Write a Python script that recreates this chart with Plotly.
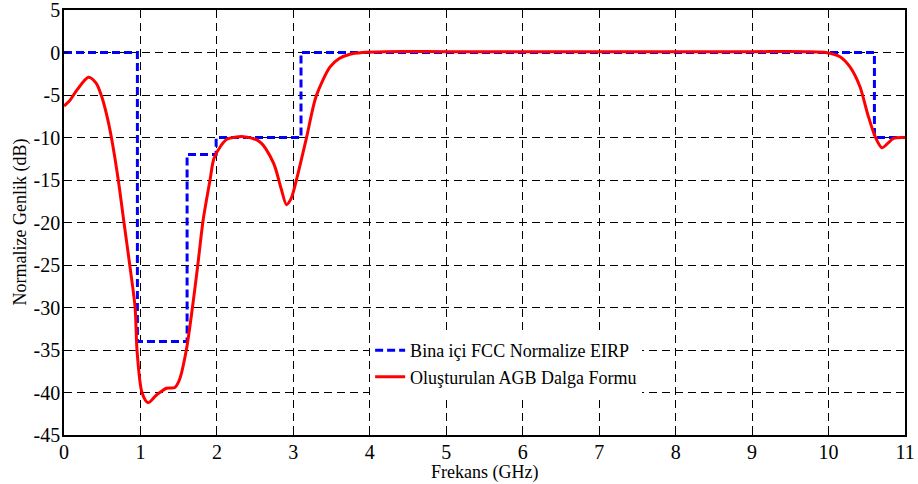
import plotly.graph_objects as go

# FCC indoor mask (normalized EIRP), step edges
fcc_f = [0, 0.96, 0.96, 1.61, 1.61, 1.99, 1.99, 3.1, 3.1, 10.6, 10.6, 11]
fcc_db = [0, 0, -34, -34, -12, -12, -10, -10, 0, 0, -10, -10]

# Generated waveform spectrum
agb_f = [0, 0.08, 0.17, 0.32, 0.42, 0.49, 0.56, 0.62, 0.71, 0.78, 0.86, 0.93, 0.955,
         1.02, 1.10, 1.21, 1.34, 1.45, 1.51, 1.60, 1.68, 1.75, 1.82, 1.91, 1.96, 2.05,
         2.13, 2.35, 2.56, 2.74, 2.84, 2.91, 2.97, 3.04, 3.17, 3.30, 3.48, 3.60, 3.74,
         3.90, 4.20, 5.0, 6.0, 7.0, 8.0, 9.0, 9.7, 9.98, 10.15, 10.28, 10.41, 10.51,
         10.61, 10.70, 10.85, 11.0]
agb_db = [-6.3, -5.6, -4.4, -2.9, -3.6, -5.1, -7.4, -10.0, -15.0, -19.7, -25.0, -30.0, -35.0,
          -40.0, -41.2, -40.3, -39.5, -39.4, -38.5, -35.0, -30.0, -25.0, -19.7, -15.0, -12.5, -11.0,
          -10.2, -9.9, -10.5, -13.0, -16.0, -17.9, -17.2, -15.0, -10.1, -5.1, -1.7, -0.7, -0.2,
          0.0, 0.1, 0.1, 0.1, 0.1, 0.1, 0.1, 0.1, -0.02, -0.5, -1.7, -4.0, -7.2,
          -9.9, -11.2, -10.1, -10.0]

x_ticks = list(range(0, 12))
y_ticks = list(range(-45, 6, 5))

FONT = "Liberation Serif, Times New Roman, serif"

fig = go.Figure()
fig.add_trace(go.Scatter(x=fcc_f, y=fcc_db, mode="lines", name="Bina içi FCC Normalize EIRP",
                         line=dict(color="#0000ff", width=3, dash="8px,4px")))
fig.add_trace(go.Scatter(x=agb_f, y=agb_db, mode="lines", name="Oluşturulan AGB Dalga Formu",
                         line=dict(color="#ff0000", width=3, shape="spline", smoothing=0.8)))

axis_common = dict(showline=True, linecolor="black", linewidth=1.5, mirror=True,
                   showgrid=True, gridcolor="black", gridwidth=1, griddash="8px,5px",
                   ticks="inside", ticklen=5, tickcolor="black", zeroline=False,
                   automargin=False, ticklabeloverflow="allow",
                   tickfont=dict(family=FONT, size=20, color="black"))

fig.update_xaxes(range=[0, 11], tickvals=x_ticks, ticktext=[str(v) for v in x_ticks],
                 ticklabelstandoff=-2, **axis_common)
fig.update_yaxes(range=[-45, 5], tickvals=y_ticks, ticktext=[str(v) for v in y_ticks],
                 ticklabelstandoff=-2, **axis_common)

fig.add_annotation(text="Frekans (GHz)", xref="paper", yref="paper", x=0.5, y=0,
                   yshift=-37, xanchor="center", yanchor="middle", showarrow=False,
                   font=dict(family=FONT, size=18, color="black"))
fig.add_annotation(text="Normalize Genlik (dB)", xref="paper", yref="paper", x=0, y=0.5,
                   xshift=-44, xanchor="center", yanchor="middle", showarrow=False, textangle=-90,
                   font=dict(family=FONT, size=18, color="black"))

fig.update_layout(
    width=918, height=484,
    margin=dict(l=64, r=13, t=10, b=49),
    paper_bgcolor="white", plot_bgcolor="white",
    showlegend=True,
    legend=dict(x=0.364, y=0.242, xanchor="left", yanchor="top", bgcolor="white",
                borderwidth=0, font=dict(family=FONT, size=18, color="black"),
                tracegroupgap=0, itemwidth=30),
)

# remove the default 8px page margin so the figure sits at the window's top-left corner
fig.write_html("out.html", config={"displayModeBar": False},
               post_script="document.body.style.margin='0';document.body.style.overflow='hidden';")
